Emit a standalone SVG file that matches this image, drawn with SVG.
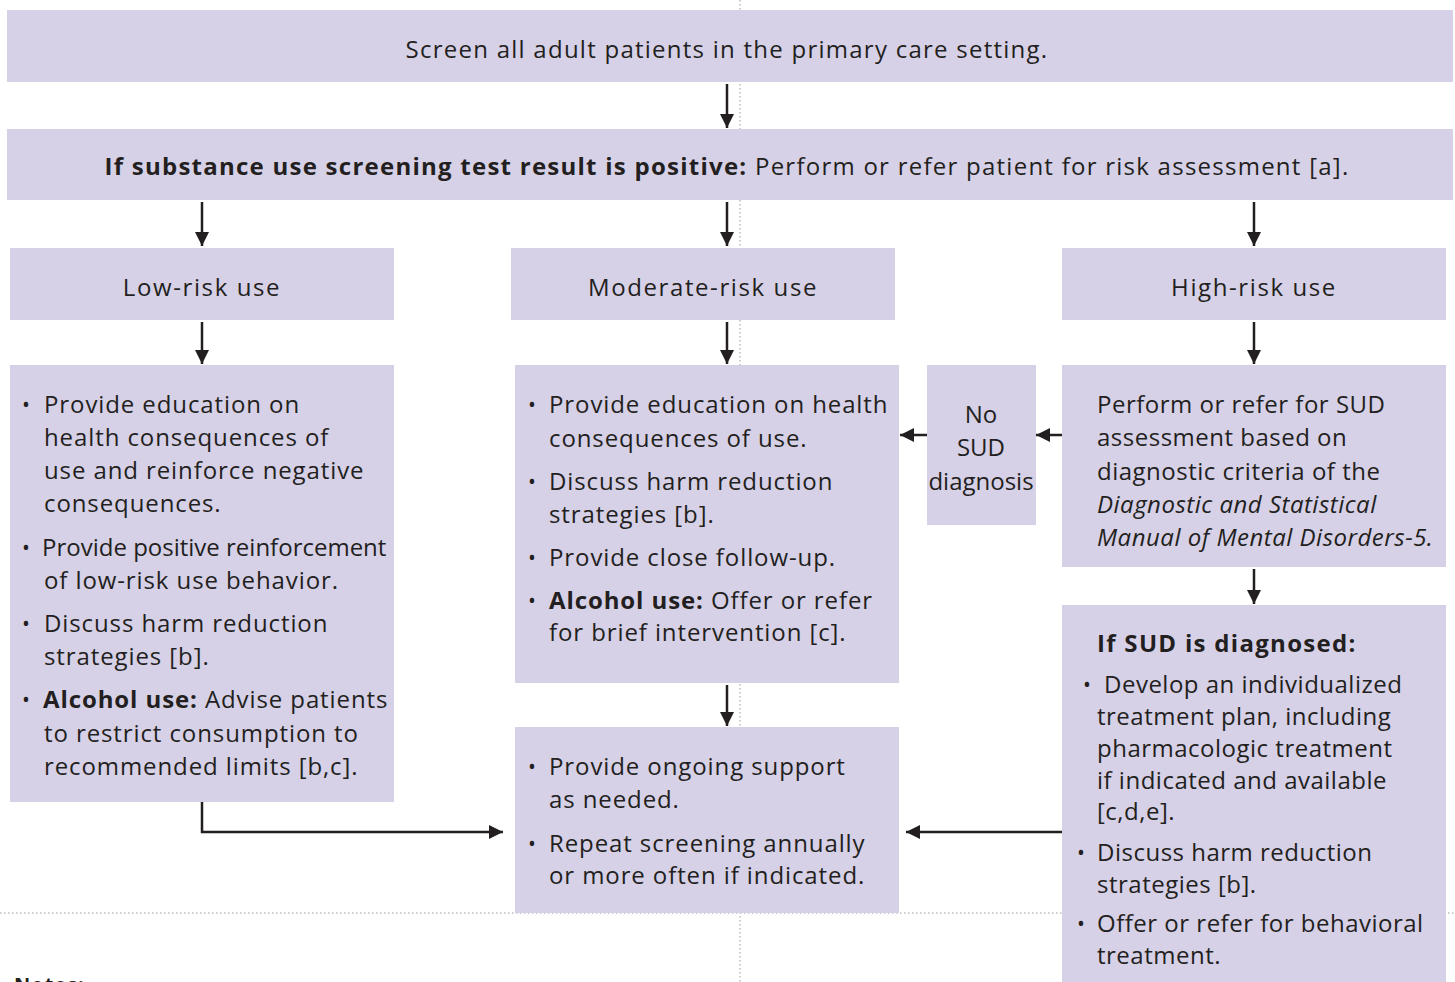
<svg xmlns="http://www.w3.org/2000/svg" width="1455" height="982" viewBox="0 0 1455 982">
<defs>
<style>
.box{fill:#d6d1e7;}
text{font-family:"Open Sans","Noto Sans","DejaVu Sans",sans-serif;font-size:24px;fill:#231f20;letter-spacing:0.9px;}
.c{text-anchor:middle;}
.b{font-weight:bold;}
.i{font-style:italic;}
.wide{letter-spacing:1.25px;}
.title{letter-spacing:1.6px;}
.tight{letter-spacing:0px;}
.mid{letter-spacing:0.5px;}
.dot{font-size:21px;letter-spacing:0;}
.guide{stroke:#bdbdbd;stroke-width:1.5;stroke-dasharray:1.5 2.5;fill:none;}
.con{stroke:#231f20;stroke-width:2.5;fill:none;marker-end:url(#ah);}
</style>
<marker id="ah" markerUnits="userSpaceOnUse" markerWidth="16" markerHeight="16" viewBox="0 0 16 16" refX="14" refY="8" orient="auto">
<path d="M0,1 L14,8 L0,15 Z" fill="#231f20"/>
</marker>
</defs>
<rect width="1455" height="982" fill="#ffffff"/>
<g id="guides">
<line class="guide" x1="740" y1="0" x2="740" y2="982"/>
<line class="guide" x1="0" y1="913" x2="1455" y2="913"/>
</g>
<g id="n-screen">
<rect class="box" x="7" y="10" width="1446" height="72"/>
<text class="c wide" x="727" y="58">Screen all adult patients in the primary care setting.</text>
</g>
<g id="n-positive">
<rect class="box" x="7" y="129" width="1446" height="71"/>
<text class="c wide" x="727" y="175"><tspan class="b">If substance use screening test result is positive:</tspan> Perform or refer patient for risk assessment [a].</text>
</g>
<g id="n-low">
<rect class="box" x="10" y="248" width="384" height="72"/>
<text class="c title" x="202" y="296">Low-risk use</text>
</g>
<g id="n-moderate">
<rect class="box" x="511" y="248" width="384" height="72"/>
<text class="c title" x="703" y="296">Moderate-risk use</text>
</g>
<g id="n-high">
<rect class="box" x="1062" y="248" width="384" height="72"/>
<text class="c title" x="1254" y="296">High-risk use</text>
</g>
<g id="n-low-actions">
<rect class="box" x="10" y="365" width="384" height="437"/>
<text class="dot" x="22" y="412">•</text><text x="44" y="413">Provide education on</text>
<text x="44" y="446">health consequences of</text>
<text x="44" y="479">use and reinforce negative</text>
<text x="44" y="512">consequences.</text>
<text class="dot" x="22" y="555">•</text><text class="tight" x="42" y="556">Provide positive reinforcement</text>
<text x="44" y="589">of low-risk use behavior.</text>
<text class="dot" x="22" y="631">•</text><text x="44" y="632">Discuss harm reduction</text>
<text x="44" y="665">strategies [b].</text>
<text class="dot" x="22" y="707">•</text><text x="43" y="708"><tspan class="b">Alcohol use:</tspan> Advise patients</text>
<text x="44" y="742">to restrict consumption to</text>
<text x="44" y="775">recommended limits [b,c].</text>
</g>
<g id="n-moderate-actions">
<rect class="box" x="515" y="365" width="384" height="318"/>
<text class="dot" x="528" y="412">•</text><text x="549" y="413">Provide education on health</text>
<text x="549" y="447">consequences of use.</text>
<text class="dot" x="528" y="489">•</text><text x="549" y="490">Discuss harm reduction</text>
<text x="549" y="523">strategies [b].</text>
<text class="dot" x="528" y="565">•</text><text x="549" y="566">Provide close follow-up.</text>
<text class="dot" x="528" y="608">•</text><text x="549" y="609"><tspan class="b">Alcohol use:</tspan> Offer or refer</text>
<text x="549" y="641">for brief intervention [c].</text>
</g>
<g id="n-no-sud">
<rect class="box" x="927" y="365" width="109" height="160"/>
<text class="c tight" x="981" y="423">No</text>
<text class="c tight" x="981" y="456">SUD</text>
<text class="c tight" x="981" y="490">diagnosis</text>
</g>
<g id="n-sud-assess">
<rect class="box" x="1062" y="365" width="384" height="202"/>
<text class="mid" x="1097" y="413">Perform or refer for SUD</text>
<text class="mid" x="1097" y="446">assessment based on</text>
<text class="mid" x="1097" y="480">diagnostic criteria of the</text>
<text class="i mid" x="1097" y="513">Diagnostic and Statistical</text>
<text class="i mid" x="1097" y="546">Manual of Mental Disorders-5.</text>
</g>
<g id="n-sud-diagnosed">
<rect class="box" x="1062" y="605" width="384" height="377"/>
<text class="b" x="1097" y="652" style="letter-spacing:1.3px">If SUD is diagnosed:</text>
<text class="dot" x="1083" y="692">•</text><text class="mid" x="1104" y="693">Develop an individualized</text>
<text class="mid" x="1097" y="725">treatment plan, including</text>
<text class="mid" x="1097" y="757">pharmacologic treatment</text>
<text class="mid" x="1097" y="789">if indicated and available</text>
<text class="mid" x="1097" y="820">[c,d,e].</text>
<text class="dot" x="1077" y="860">•</text><text class="mid" x="1097" y="861">Discuss harm reduction</text>
<text class="mid" x="1097" y="893">strategies [b].</text>
<text class="dot" x="1077" y="931">•</text><text class="mid" x="1097" y="932">Offer or refer for behavioral</text>
<text class="mid" x="1097" y="964">treatment.</text>
</g>
<g id="n-ongoing">
<rect class="box" x="515" y="727" width="384" height="186"/>
<text class="dot" x="528" y="774">•</text><text x="549" y="775">Provide ongoing support</text>
<text x="549" y="808">as needed.</text>
<text class="dot" x="528" y="851">•</text><text x="549" y="852">Repeat screening annually</text>
<text x="549" y="884">or more often if indicated.</text>
</g>
<g id="connectors">
<line class="con" x1="727" y1="84" x2="727" y2="128"/>
<line class="con" x1="202" y1="202" x2="202" y2="246"/>
<line class="con" x1="727" y1="202" x2="727" y2="246"/>
<line class="con" x1="1254" y1="202" x2="1254" y2="246"/>
<line class="con" x1="202" y1="322" x2="202" y2="364"/>
<line class="con" x1="727" y1="322" x2="727" y2="364"/>
<line class="con" x1="1254" y1="322" x2="1254" y2="364"/>
<line class="con" x1="1062" y1="435" x2="1036" y2="435"/>
<line class="con" x1="927" y1="435" x2="900" y2="435"/>
<line class="con" x1="1254" y1="569" x2="1254" y2="604"/>
<line class="con" x1="727" y1="685" x2="727" y2="726"/>
<polyline class="con" points="202,802 202,832 503,832"/>
<line class="con" x1="1062" y1="832" x2="906" y2="832"/>
</g>
<g id="notes">
<text class="b" x="14" y="992" style="font-size:20px;letter-spacing:1px">Notes:</text>
</g>
</svg>
